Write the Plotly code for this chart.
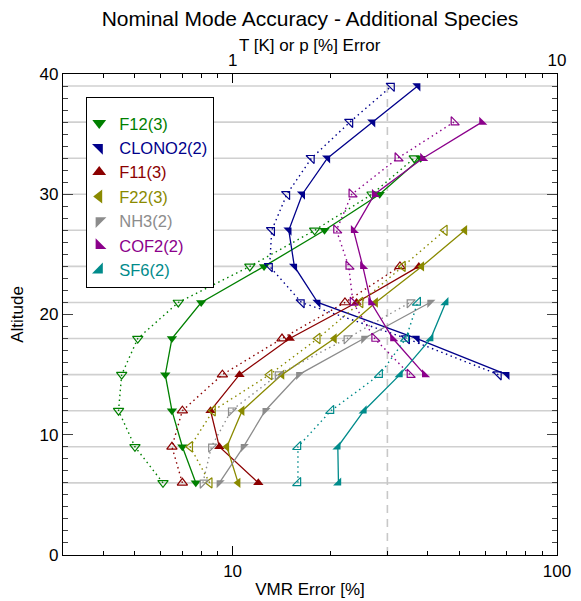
import math
import plotly.graph_objects as go

# ---------------- data ----------------
alt_f12 = [6, 9, 12, 15, 18, 21, 24, 27, 30, 33]
f12_solid = [7.7, 7.0, 6.5, 6.2, 6.5, 8.0, 12.5, 19.2, 28.4, 38.0]
f12_dotted = [6.1, 5.0, 4.45, 4.55, 5.1, 6.8, 11.3, 17.9, 26.9, 36.3]

alt_clono2 = [15, 18, 21, 24, 27, 30, 33, 36, 39]
clono2_solid = [70.0, 37.0, 18.3, 15.5, 14.9, 16.4, 19.6, 27.0, 37.2]
clono2_dotted = [66.0, 34.4, 16.3, 13.0, 13.2, 14.7, 17.5, 23.0, 30.9]

alt_f11 = [6, 9, 12, 15, 18, 21, 24]
f11_solid = [12.0, 9.1, 8.55, 10.5, 15.0, 24.1, 37.5]
f11_dotted = [7.0, 6.5, 7.0, 9.3, 14.2, 22.2, 32.8]

alt_f22 = [6, 9, 12, 15, 18, 21, 24, 27]
f22_solid = [10.4, 9.6, 10.7, 14.2, 20.6, 27.6, 38.3, 52.0]
f22_dotted = [8.5, 7.4, 8.7, 13.0, 18.3, 24.8, 33.5, 45.1]

alt_nh3 = [6, 9, 12, 15, 18, 21]
nh3_solid = [9.1, 10.8, 12.6, 16.0, 25.4, 40.6]
nh3_dotted = [8.1, 8.6, 9.9, 13.8, 22.5, 35.2]

alt_cof2 = [15, 18, 21, 24, 27, 30, 33, 36]
cof2_solid = [39.1, 31.2, 26.7, 25.2, 23.6, 27.4, 38.6, 58.7]
cof2_dotted = [35.2, 27.4, 23.5, 22.8, 20.9, 23.3, 32.3, 48.1]

alt_sf6 = [6, 9, 12, 15, 18, 21]
sf6_solid = [21.2, 21.1, 25.4, 32.8, 40.8, 45.4]
sf6_dotted = [15.9, 15.9, 20.1, 28.4, 34.2, 37.2]

names = ["F12(3)", "CLONO2(2)", "F11(3)", "F22(3)", "NH3(2)", "COF2(2)", "SF6(2)"]
ref_error = 30  # dashed reference line [%]

x_ticks_bottom = [10, 100]
x_ticks_top = [1, 10]

# ---------------- styles ----------------
species = [
    (names[0], alt_f12, f12_solid, f12_dotted, "#008000", "triangle-down"),
    (names[1], alt_clono2, clono2_solid, clono2_dotted, "#00008b", "triangle-ne"),
    (names[2], alt_f11, f11_solid, f11_dotted, "#8b0000", "triangle-up"),
    (names[3], alt_f22, f22_solid, f22_dotted, "#8a8a00", "triangle-left"),
    (names[4], alt_nh3, nh3_solid, nh3_dotted, "#8c8c8c", "triangle-nw"),
    (names[5], alt_cof2, cof2_solid, cof2_dotted, "#8b008b", "triangle-sw"),
    (names[6], alt_sf6, sf6_solid, sf6_dotted, "#008b8b", "triangle-se"),
]

FONT = "Liberation Sans, Arial, sans-serif"

fig = go.Figure()

for name, alts, solid, dotted, color, sym in species:
    fig.add_trace(go.Scatter(
        x=dotted, y=alts, mode="lines+markers", showlegend=False,
        line=dict(color=color, width=1.4, dash="1.5px,3.5px"),
        marker=dict(symbol=sym + "-open", size=9, color=color,
                    line=dict(color=color, width=1.2)),
        name=name + " nominal",
    ))
    fig.add_trace(go.Scatter(
        x=solid, y=alts, mode="lines+markers", showlegend=False,
        line=dict(color=color, width=1.3),
        marker=dict(symbol=sym, size=9, color=color, line=dict(width=0)),
        name=name,
    ))

# legend entries (marker only)
for name, alts, solid, dotted, color, sym in species:
    fig.add_trace(go.Scatter(
        x=[None], y=[None], mode="markers", showlegend=True,
        marker=dict(symbol=sym, size=9, color=color, line=dict(width=0)),
        name="<span style='color:%s'>%s</span>" % (color, name),
    ))

# dummy trace to attach the top axis
fig.add_trace(go.Scatter(x=[], y=[], xaxis="x2", yaxis="y", showlegend=False,
                         hoverinfo="skip"))

# horizontal grid lines at the retrieval altitudes
grid_alts = sorted(set(alt_f12 + alt_clono2 + alt_f11 + alt_f22 + alt_nh3 + alt_cof2 + alt_sf6))
shapes = []
for a in grid_alts:
    shapes.append(dict(type="line", xref="paper", x0=0, x1=1, yref="y", y0=a, y1=a,
                       line=dict(color="#d0d0d0", width=1.6), layer="below"))
shapes.append(dict(type="line", xref="x", x0=ref_error, x1=ref_error, yref="paper", y0=0, y1=1,
                   line=dict(color="#c8c8c8", width=1.6, dash="8px,6px"), layer="below"))

bottom_minor = [v * m for m in (1, 10) for v in range(2, 10) if 3 < v * m < 100]
top_minor = [v * m for m in (0.1, 1) for v in range(2, 10) if 0.3 < v * m < 10]

W, H = 573, 593   # page body has an 8 px margin
PLOT_H = 481

fig.update_layout(
    width=W, height=H,
    margin=dict(l=55, r=24, t=66, b=46, autoexpand=False),
    paper_bgcolor="white", plot_bgcolor="white",
    font=dict(family=FONT, size=17, color="black"),
    title=dict(text="Nominal Mode Accuracy - Additional Species",
               x=0.5, xref="paper", xanchor="center",
               y=1 - 11 / H, yref="container", yanchor="middle",
               font=dict(size=21, family=FONT, color="black")),
    shapes=shapes,
    annotations=[dict(text="T [K] or p [%] Error", xref="paper", yref="paper",
                      x=0.5, y=1 + (74 - 45) / PLOT_H, xanchor="center", yanchor="middle",
                      showarrow=False, font=dict(size=17, family=FONT, color="black"))],
    showlegend=True,
    legend=dict(x=0.047, y=0.952, xanchor="left", yanchor="top",
                bgcolor="white", bordercolor="black", borderwidth=1,
                font=dict(size=16.5, family=FONT), itemsizing="constant",
                tracegroupgap=0, indentation=-8,
                title=dict(text=" ", font=dict(size=6))),
    xaxis=dict(type="log", range=[math.log10(3), 2],
               tickmode="array", tickvals=x_ticks_bottom, ticktext=[str(v) for v in x_ticks_bottom],
               ticks="inside", ticklen=9, tickwidth=1, tickcolor="black",
               minor=dict(tickmode="array", tickvals=bottom_minor, ticks="inside",
                          ticklen=4, tickcolor="black", showgrid=False),
               showline=True, linecolor="black", linewidth=1.2,
               showgrid=False, zeroline=False,
               title=dict(text="VMR Error [%]", standoff=3, font=dict(size=17)),
               tickfont=dict(size=17)),
    xaxis2=dict(type="log", range=[math.log10(0.3), 1], overlaying="x", side="top",
                tickmode="array", tickvals=x_ticks_top, ticktext=[str(v) for v in x_ticks_top],
                ticks="inside", ticklen=9, tickwidth=1, tickcolor="black",
                minor=dict(tickmode="array", tickvals=top_minor, ticks="inside",
                           ticklen=4, tickcolor="black", showgrid=False),
                showline=True, linecolor="black", linewidth=1.2,
                showgrid=False, zeroline=False,
                tickfont=dict(size=17)),
    yaxis=dict(range=[0, 40], tickmode="linear", tick0=0, dtick=10,
               ticks="inside", ticklen=10, tickwidth=1, tickcolor="#444",
               minor=dict(dtick=1, ticks="inside", ticklen=5, tickcolor="#444", showgrid=False),
               showline=True, linecolor="black", linewidth=1.2, mirror="ticks",
               showgrid=False, zeroline=False,
               title=dict(text="Altitude", standoff=12, font=dict(size=17)),
               tickfont=dict(size=17)),
)

fig.write_html("out.html")
